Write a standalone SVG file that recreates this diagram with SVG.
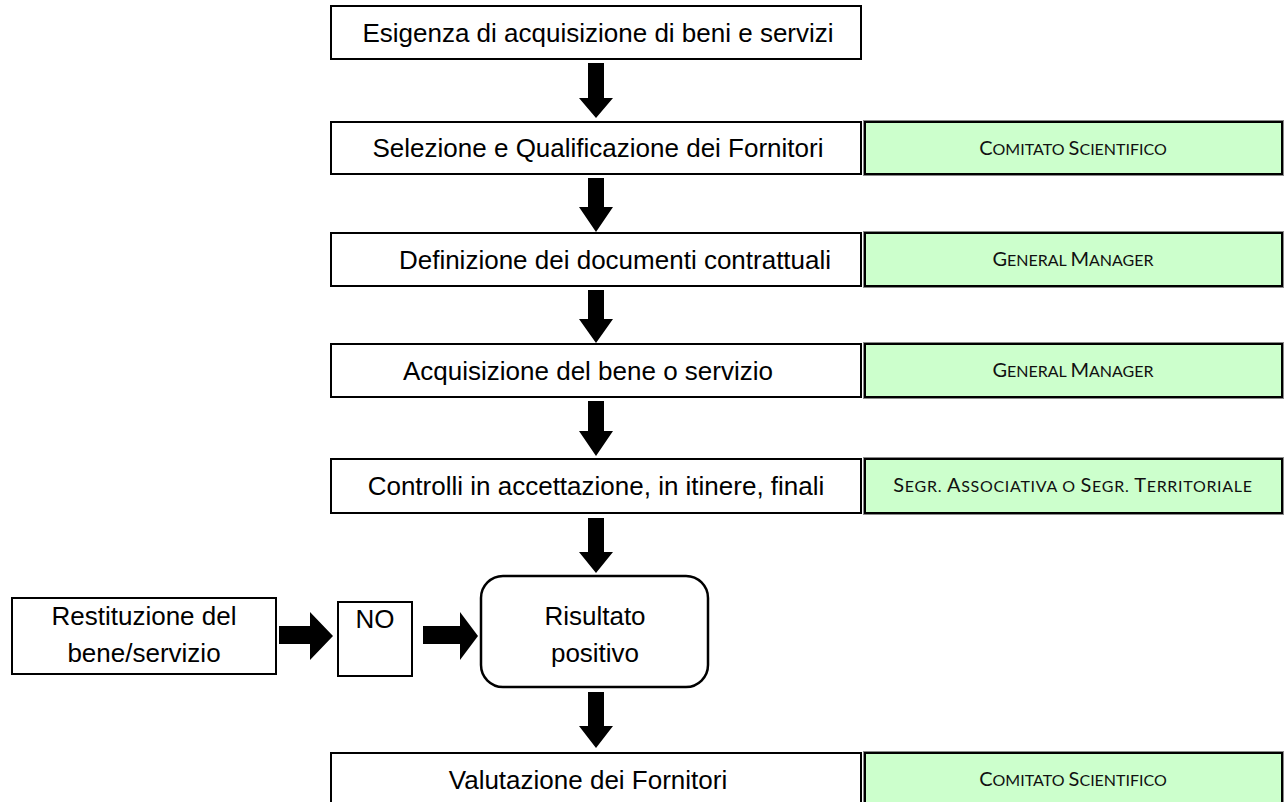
<svg xmlns="http://www.w3.org/2000/svg" width="1286" height="802" viewBox="0 0 1286 802">
<style>
.box{fill:#fff;stroke:#000;stroke-width:2}
.gbox{fill:#ccffcc;stroke:#000;stroke-width:2}
.gout{fill:none;stroke:#8a8a8a;stroke-width:1}
.t{font-family:"Liberation Sans",Arial,sans-serif;font-size:26px;fill:#000;text-anchor:middle}
.g{font-family:Lato,"Open Sans",sans-serif;fill:#111;text-anchor:middle}
.L{font-size:20px}
.s{font-size:16px}
.arr{fill:#000}
</style>
<rect width="1286" height="802" fill="#fff"/>
<g id="n1">
<rect class="box" x="331" y="6" width="530" height="53"/>
<text class="t" x="598" y="42">Esigenza di acquisizione di beni e servizi</text>
</g>
<g id="n2">
<rect class="box" x="331" y="122" width="530" height="52"/>
<text class="t" x="598" y="157">Selezione e Qualificazione dei Fornitori</text>
</g>
<g id="r2">
<rect class="gout" x="863.5" y="120.5" width="420" height="55"/>
<rect class="gbox" x="865" y="122" width="417" height="52"/>
<text class="g" x="1073" y="155"><tspan class="L">C</tspan><tspan class="s">OMITATO </tspan><tspan class="L">S</tspan><tspan class="s">CIENTIFICO</tspan></text>
</g>
<g id="n3">
<rect class="box" x="331" y="233" width="530" height="53"/>
<text class="t" x="615" y="269">Definizione dei documenti contrattuali</text>
</g>
<g id="r3">
<rect class="gout" x="863.5" y="231.5" width="420" height="56"/>
<rect class="gbox" x="865" y="233" width="417" height="53"/>
<text class="g" x="1073" y="266"><tspan class="L">G</tspan><tspan class="s">ENERAL </tspan><tspan class="L">M</tspan><tspan class="s">ANAGER</tspan></text>
</g>
<g id="n4">
<rect class="box" x="331" y="344" width="530" height="53"/>
<text class="t" x="588" y="380">Acquisizione del bene o servizio</text>
</g>
<g id="r4">
<rect class="gout" x="863.5" y="342.5" width="420" height="56"/>
<rect class="gbox" x="865" y="344" width="417" height="53"/>
<text class="g" x="1073" y="377"><tspan class="L">G</tspan><tspan class="s">ENERAL </tspan><tspan class="L">M</tspan><tspan class="s">ANAGER</tspan></text>
</g>
<g id="n5">
<rect class="box" x="331" y="459" width="530" height="54"/>
<text class="t" x="596" y="495">Controlli in accettazione, in itinere, finali</text>
</g>
<g id="r5">
<rect class="gout" x="863.5" y="457.5" width="420" height="57"/>
<rect class="gbox" x="865" y="459" width="417" height="54"/>
<text class="g" x="1073" y="492" style="letter-spacing:0.7px"><tspan class="L">S</tspan><tspan class="s">EGR. </tspan><tspan class="L">A</tspan><tspan class="s">SSOCIATIVA O </tspan><tspan class="L">S</tspan><tspan class="s">EGR. </tspan><tspan class="L">T</tspan><tspan class="s">ERRITORIALE</tspan></text>
</g>
<g id="dec">
<rect class="box" x="481" y="576" width="227" height="111" rx="22" ry="22" style="stroke-width:2.5"/>
<text class="t" x="595" y="625">Risultato</text>
<text class="t" x="595" y="662">positivo</text>
</g>
<g id="no">
<rect class="box" x="338" y="602" width="74" height="74"/>
<text class="t" x="375" y="628">NO</text>
</g>
<g id="rest">
<rect class="box" x="12" y="598" width="264" height="76"/>
<text class="t" x="144" y="625">Restituzione del</text>
<text class="t" x="144" y="662">bene/servizio</text>
</g>
<g id="n6">
<rect class="box" x="331" y="753" width="530" height="60"/>
<text class="t" x="588" y="789">Valutazione dei Fornitori</text>
</g>
<g id="r6">
<rect class="gout" x="863.5" y="751.5" width="420" height="60"/>
<rect class="gbox" x="865" y="753" width="417" height="60"/>
<text class="g" x="1073" y="786"><tspan class="L">C</tspan><tspan class="s">OMITATO </tspan><tspan class="L">S</tspan><tspan class="s">CIENTIFICO</tspan></text>
</g>
<g id="connectors">
<polygon class="arr" points="588,63 604,63 604,98 613,98 596,118 579,98 588,98"/>
<polygon class="arr" points="588,178 604,178 604,207 613,207 596,232 579,207 588,207"/>
<polygon class="arr" points="588,290 604,290 604,319 613,319 596,343 579,319 588,319"/>
<polygon class="arr" points="588,401 604,401 604,431 613,431 596,456 579,431 588,431"/>
<polygon class="arr" points="588,518 604,518 604,552 613,552 596,573 579,552 588,552"/>
<polygon class="arr" points="588,692 604,692 604,726 613,726 596,748 579,726 588,726"/>
<polygon class="arr" points="279,626 310,626 310,612 333,636 310,660 310,644 279,644"/>
<polygon class="arr" points="423,626 460,626 460,612 478,636 460,660 460,644 423,644"/>
</g>
</svg>
